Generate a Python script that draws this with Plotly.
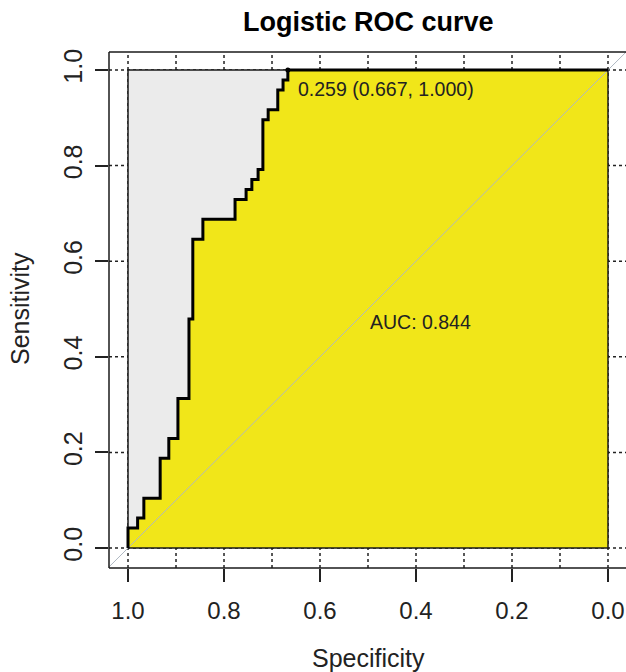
import plotly.graph_objects as go

# ROC curve corner points (specificity, sensitivity), step shape 'vh'
specificity = [1.000, 0.980, 0.967, 0.933, 0.915, 0.896, 0.873, 0.865, 0.844,
               0.777, 0.754, 0.742, 0.729, 0.719, 0.708, 0.688, 0.677, 0.667, 0.000]
sensitivity = [0.000, 0.042, 0.063, 0.104, 0.188, 0.229, 0.313, 0.479, 0.646,
               0.688, 0.729, 0.750, 0.771, 0.792, 0.896, 0.917, 0.958, 0.979, 1.000]

x_ticks = [1.0, 0.8, 0.6, 0.4, 0.2, 0.0]
x_ticklabels = ["1.0", "0.8", "0.6", "0.4", "0.2", "0.0"]
y_ticks = [0.0, 0.2, 0.4, 0.6, 0.8, 1.0]
y_ticklabels = ["0.0", "0.2", "0.4", "0.6", "0.8", "1.0"]
x_grid = [1.0, 0.9, 0.8, 0.7, 0.6, 0.5, 0.4, 0.3, 0.2, 0.1, 0.0]
y_grid = [0.0, 0.2, 0.4, 0.6, 0.8, 1.0]

best_threshold = 0.259
best_spec = 0.667
best_sens = 1.000
auc_value = 0.844

title = "Logistic ROC curve"
x_title = "Specificity"
y_title = "Sensitivity"

FONT = "Liberation Sans, Arial, sans-serif"
YELLOW = "#F1E619"
GREY = "#EBEBEB"

XR = [1.0396, -0.0375]
YR = [-0.0418, 1.0377]

fig = go.Figure()

# grey max-AUC square
fig.add_trace(go.Scatter(x=[1, 0, 0, 1, 1], y=[0, 0, 1, 1, 0], mode="lines",
                         fill="toself", fillcolor=GREY, line=dict(width=0),
                         hoverinfo="skip", showlegend=False))
# yellow AUC polygon
fig.add_trace(go.Scatter(x=specificity, y=sensitivity, mode="lines",
                         line=dict(width=0, shape="vh"), fill="tozeroy",
                         fillcolor=YELLOW, hoverinfo="skip", showlegend=False))
# diagonal
fig.add_trace(go.Scatter(x=[1.1, -0.1], y=[-0.1, 1.1], mode="lines",
                         line=dict(color="#AFB8C2", width=1),
                         hoverinfo="skip", showlegend=False))
# square border
fig.add_trace(go.Scatter(x=[1, 0, 0, 1, 1], y=[0, 0, 1, 1, 0], mode="lines",
                         line=dict(color="#1a1a1a", width=1.5),
                         hoverinfo="skip", showlegend=False))
# ROC curve
fig.add_trace(go.Scatter(x=specificity, y=sensitivity, mode="lines",
                         line=dict(color="black", width=3, shape="vh"),
                         showlegend=False))
# best threshold point
fig.add_trace(go.Scatter(x=[best_spec], y=[best_sens], mode="markers",
                         marker=dict(color="black", size=5), showlegend=False))

shapes = []
for gx in x_grid:
    shapes.append(dict(type="line", xref="x", yref="paper", x0=gx, x1=gx, y0=0, y1=1,
                       line=dict(color="#222", width=1.5, dash="dot"), layer="below"))
for gy in y_grid:
    shapes.append(dict(type="line", xref="paper", yref="y", x0=0, x1=1, y0=gy, y1=gy,
                       line=dict(color="#222", width=1.5, dash="dot"), layer="below"))
# outer box (top, left, bottom)
for s in [dict(x0=0, x1=1, y0=1, y1=1), dict(x0=0, x1=0, y0=0, y1=1), dict(x0=0, x1=1, y0=0, y1=0)]:
    shapes.append(dict(type="line", xref="paper", yref="paper", line=dict(color="#1a1a1a", width=1.5), **s))

annotations = [
    dict(x=0.5, y=0.5, xref="x", yref="y", text=f"AUC: {auc_value:.3f}", showarrow=False,
         xanchor="left", yanchor="top", font=dict(family=FONT, size=19.5, color="#222")),
    dict(x=best_spec, y=best_sens, xref="x", yref="y",
         text=f"{best_threshold:.3f} ({best_spec:.3f}, {best_sens:.3f})", showarrow=False,
         xanchor="left", yanchor="top", xshift=8, yshift=-6,
         font=dict(family=FONT, size=19.5, color="#222")),
    dict(x=(368 - 109) / 517, y=1 + (52 - 22) / 516, xref="paper", yref="paper",
         text=f"<b>{title}</b>", showarrow=False, yanchor="middle",
         font=dict(family=FONT, size=27, color="black")),
    dict(x=0.5, y=0, xref="x", yref="paper", text=x_title, showarrow=False, yanchor="middle",
         yshift=-90, font=dict(family=FONT, size=25, color="#222")),
    dict(x=0, y=0.5, xref="paper", yref="y", text=y_title, showarrow=False, textangle=-90,
         xanchor="center", xshift=-89, font=dict(family=FONT, size=25, color="#222")),
]

fig.update_layout(
    width=626, height=672,
    margin=dict(l=109, r=0, t=52, b=104),
    paper_bgcolor="white", plot_bgcolor="white",
    font=dict(family=FONT, color="#222"),
    shapes=shapes, annotations=annotations,
    xaxis=dict(range=XR, showgrid=False, zeroline=False, showline=False,
               tickvals=x_ticks, ticktext=x_ticklabels, ticks="outside", ticklen=13,
               tickwidth=1.5, tickcolor="#222", tickfont=dict(size=24, family=FONT),
               ticklabelstandoff=8),
    yaxis=dict(range=YR, showgrid=False, zeroline=False, showline=False,
               tickvals=y_ticks, ticktext=y_ticklabels, ticks="outside", ticklen=13,
               tickwidth=1.5, tickcolor="#222", tickfont=dict(size=25, family=FONT),
               tickangle=-90, ticklabelstandoff=3),
)

fig.write_html("out.html", config={"displayModeBar": False},
               post_script="document.body.style.margin='0';document.body.style.overflow='hidden';")
